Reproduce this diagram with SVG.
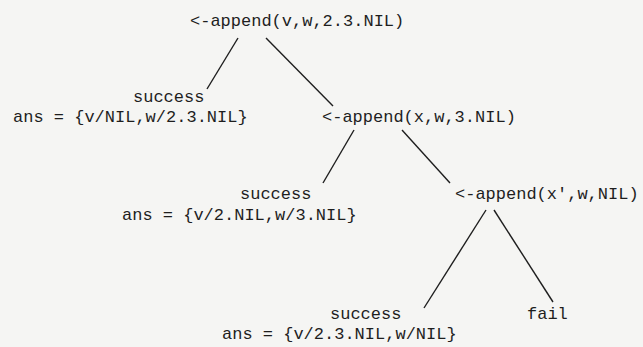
<svg xmlns="http://www.w3.org/2000/svg" width="643" height="347" viewBox="0 0 643 347">
<style>
text{font-family:"Liberation Mono","DejaVu Sans Mono",monospace;font-size:17px;fill:#1e1e1e}
.e{stroke:#1e1e1e;stroke-width:1.4;fill:none}
</style>
<rect width="643" height="347" fill="#f5f5f3"/>
<g id="connectors">
<line class="e" x1="238" y1="38" x2="207" y2="89"/>
<line class="e" x1="266" y1="38" x2="333" y2="106"/>
<line class="e" x1="354" y1="130" x2="323" y2="183"/>
<line class="e" x1="402" y1="130" x2="450" y2="183"/>
<line class="e" x1="486" y1="210" x2="424" y2="308"/>
<line class="e" x1="494" y1="210" x2="553" y2="302"/>
</g>
<g id="n1"><text x="190" y="26">&lt;-append(v,w,2.3.NIL)</text></g>
<g id="n2"><text x="133" y="102">success</text><text x="13" y="122">ans = {v/NIL,w/2.3.NIL}</text></g>
<g id="n3"><text x="322" y="122">&lt;-append(x,w,3.NIL)</text></g>
<g id="n4"><text x="240" y="199">success</text><text x="122" y="220">ans = {v/2.NIL,w/3.NIL}</text></g>
<g id="n5"><text x="455" y="199">&lt;-append(x',w,NIL)</text></g>
<g id="n6"><text x="330" y="319">success</text><text x="222" y="339">ans = {v/2.3.NIL,w/NIL}</text></g>
<g id="n7"><text x="527" y="319">fail</text></g>
</svg>
